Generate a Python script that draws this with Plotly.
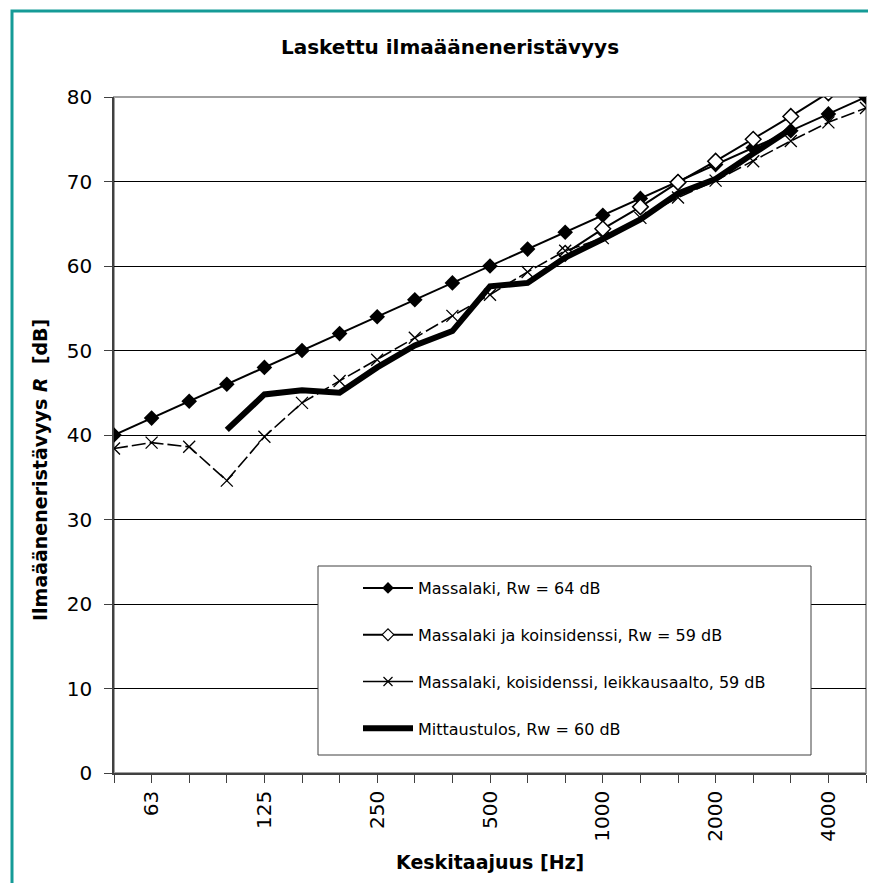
import plotly.graph_objects as go

# ---- data ----
freqs = ["50", "63", "80", "100", "125", "160", "200", "250", "315", "400", "500",
         "630", "800", "1000", "1250", "1600", "2000", "2500", "3150", "4000", "5000"]
shown_labels = ["63", "125", "250", "500", "1000", "2000", "4000"]

massalaki = [40, 42, 44, 46, 48, 50, 52, 54, 56, 58, 60, 62, 64, 66, 68, 70, 72, 74, 76, 78, 80]
koinsidenssi = [None, None, None, None, None, None, None, None, None, None, None, None,
                61.5, 64.4, 67.0, 69.9, 72.4, 75.0, 77.7, 80.5, None]
leikkausaalto = [38.4, 39.1, 38.6, 34.6, 39.8, 43.8, 46.4, 48.9, 51.5, 54.1, 56.6,
                 59.3, 61.8, 63.3, 65.7, 68.1, 70.1, 72.4, 74.8, 77.0, 78.7]
mittaus = [None, None, None, 40.6, 44.8, 45.3, 45.0, 48.0, 50.6, 52.3, 57.6,
           58.0, 61.0, 63.2, 65.5, 68.6, 70.3, 73.3, 76.2, None, None]

names = ["Massalaki, Rw = 64 dB",
         "Massalaki ja koinsidenssi, Rw = 59 dB",
         "Massalaki, koisidenssi, leikkausaalto, 59 dB",
         "Mittaustulos, Rw = 60 dB"]

title_text = "Laskettu ilmaääneneristävyys"
x_title = "Keskitaajuus [Hz]"
y_title = "Ilmaääneneristävyys <i>R</i>  [dB]"

# ---- layout geometry ----
# the page body has an 8px margin; target pixel positions are given in window coords
OX, OY = 8, 8
W, H = 876 - OX, 883 - OY
PL, PR, PT, PB = 114, 866, 97, 773          # plot area in window pixels
L, T = PL - OX, PT - OY
R = W - (PR - OX)
B = H - (PB - OY)
pw, ph = PR - PL, PB - PT

def px_x(px):
    return (px - PL) / pw

def px_y(py):
    return (PB - py) / ph

xi = list(range(len(freqs)))
ticktext = [f if f in shown_labels else "" for f in freqs]

FONT = "Tahoma, DejaVu Sans, sans-serif"

fig = go.Figure()
# data traces (legend via separate entries with smaller markers)
fig.add_trace(go.Scatter(
    x=xi, y=massalaki, name=names[0], mode="lines+markers", showlegend=False,
    line=dict(color="black", width=2),
    marker=dict(symbol="diamond", size=12, color="black")))
fig.add_trace(go.Scatter(
    x=xi, y=koinsidenssi, name=names[1], mode="lines+markers", showlegend=False,
    line=dict(color="black", width=2),
    marker=dict(symbol="diamond", size=12, color="white", line=dict(color="black", width=1.5))))
fig.add_trace(go.Scatter(
    x=xi, y=leikkausaalto, name=names[2], mode="lines+markers", showlegend=False,
    line=dict(color="black", width=1.6, dash="14px,4px"),
    marker=dict(symbol="x-thin", size=12, color="black", line=dict(color="black", width=1.3))))
fig.add_trace(go.Scatter(
    x=xi, y=mittaus, name=names[3], mode="lines", showlegend=False,
    line=dict(color="black", width=6)))

# legend entries
fig.add_trace(go.Scatter(x=[None], y=[None], name=names[0], mode="lines+markers", legendgroup="a",
                         line=dict(color="black", width=2),
                         marker=dict(symbol="diamond", size=9, color="black")))
fig.add_trace(go.Scatter(x=[None], y=[None], name=names[1], mode="lines+markers", legendgroup="b",
                         line=dict(color="black", width=2),
                         marker=dict(symbol="diamond", size=9, color="white",
                                     line=dict(color="black", width=1.2))))
fig.add_trace(go.Scatter(x=[None], y=[None], name=names[2], mode="lines+markers", legendgroup="c",
                         line=dict(color="black", width=1.5),
                         marker=dict(symbol="x-thin", size=9, color="black",
                                     line=dict(color="black", width=1.2))))
fig.add_trace(go.Scatter(x=[None], y=[None], name=names[3], mode="lines", legendgroup="d",
                         line=dict(color="black", width=6)))

shapes = [
    # outer teal frame
    dict(type="rect", xref="paper", yref="paper",
         x0=px_x(12), x1=px_x(890), y0=px_y(895), y1=px_y(11),
         line=dict(color="#159b97", width=3), layer="below"),
    # plot area border
    dict(type="rect", xref="paper", yref="paper",
         x0=0, x1=1, y0=0, y1=1, line=dict(color="#a0a0a0", width=2), layer="below"),
    # legend box
    dict(type="rect", xref="paper", yref="paper",
         x0=px_x(318), x1=px_x(811), y0=px_y(755), y1=px_y(566),
         line=dict(color="#404040", width=1), fillcolor="white", layer="above"),
]

annotations = [
    dict(text=f"<b>{x_title}</b>", xref="paper", yref="paper",
         x=px_x(490), y=px_y(862), showarrow=False,
         xanchor="center", yanchor="middle", font=dict(size=19, family=FONT, color="black")),
    dict(text=f"<b>{y_title}</b>", xref="paper", yref="paper",
         x=px_x(40), y=px_y(470), showarrow=False, textangle=-90,
         xanchor="center", yanchor="middle", font=dict(size=19, family=FONT, color="black")),
]

fig.update_layout(
    width=W, height=H,
    margin=dict(l=L, r=R, t=T, b=B),
    paper_bgcolor="white", plot_bgcolor="white",
    font=dict(family=FONT, color="black"),
    title=dict(text=f"<b>{title_text}</b>", x=(450 - OX) / W, xref="container",
               y=1 - (47 - OY) / H, yref="container", xanchor="center", yanchor="middle",
               font=dict(size=20, family=FONT, color="black")),
    showlegend=True,
    legend=dict(x=px_x(358), y=px_y(571), xanchor="left", yanchor="top",
                bgcolor="rgba(0,0,0,0)", borderwidth=0,
                font=dict(size=16, family=FONT, color="black"),
                tracegroupgap=23, itemwidth=50),
    shapes=shapes,
    annotations=annotations,
)

fig.update_xaxes(range=[0, 20], tickmode="array", tickvals=xi, ticktext=ticktext,
                 tickangle=-90, ticks="outside", ticklen=8, tickcolor="#404040",
                 showline=True, linecolor="#404040", linewidth=1.5,
                 showgrid=False, zeroline=False,
                 tickfont=dict(size=20, family=FONT, color="black"))
fig.update_yaxes(range=[0, 80], dtick=10, ticks="outside", ticklen=8, tickcolor="#404040",
                 showline=True, linecolor="#404040", linewidth=1.5,
                 showgrid=True, gridcolor="black", gridwidth=1, zeroline=False,
                 ticklabelstandoff=8,
                 tickfont=dict(size=20, family=FONT, color="black"))

fig.write_html("out.html")
